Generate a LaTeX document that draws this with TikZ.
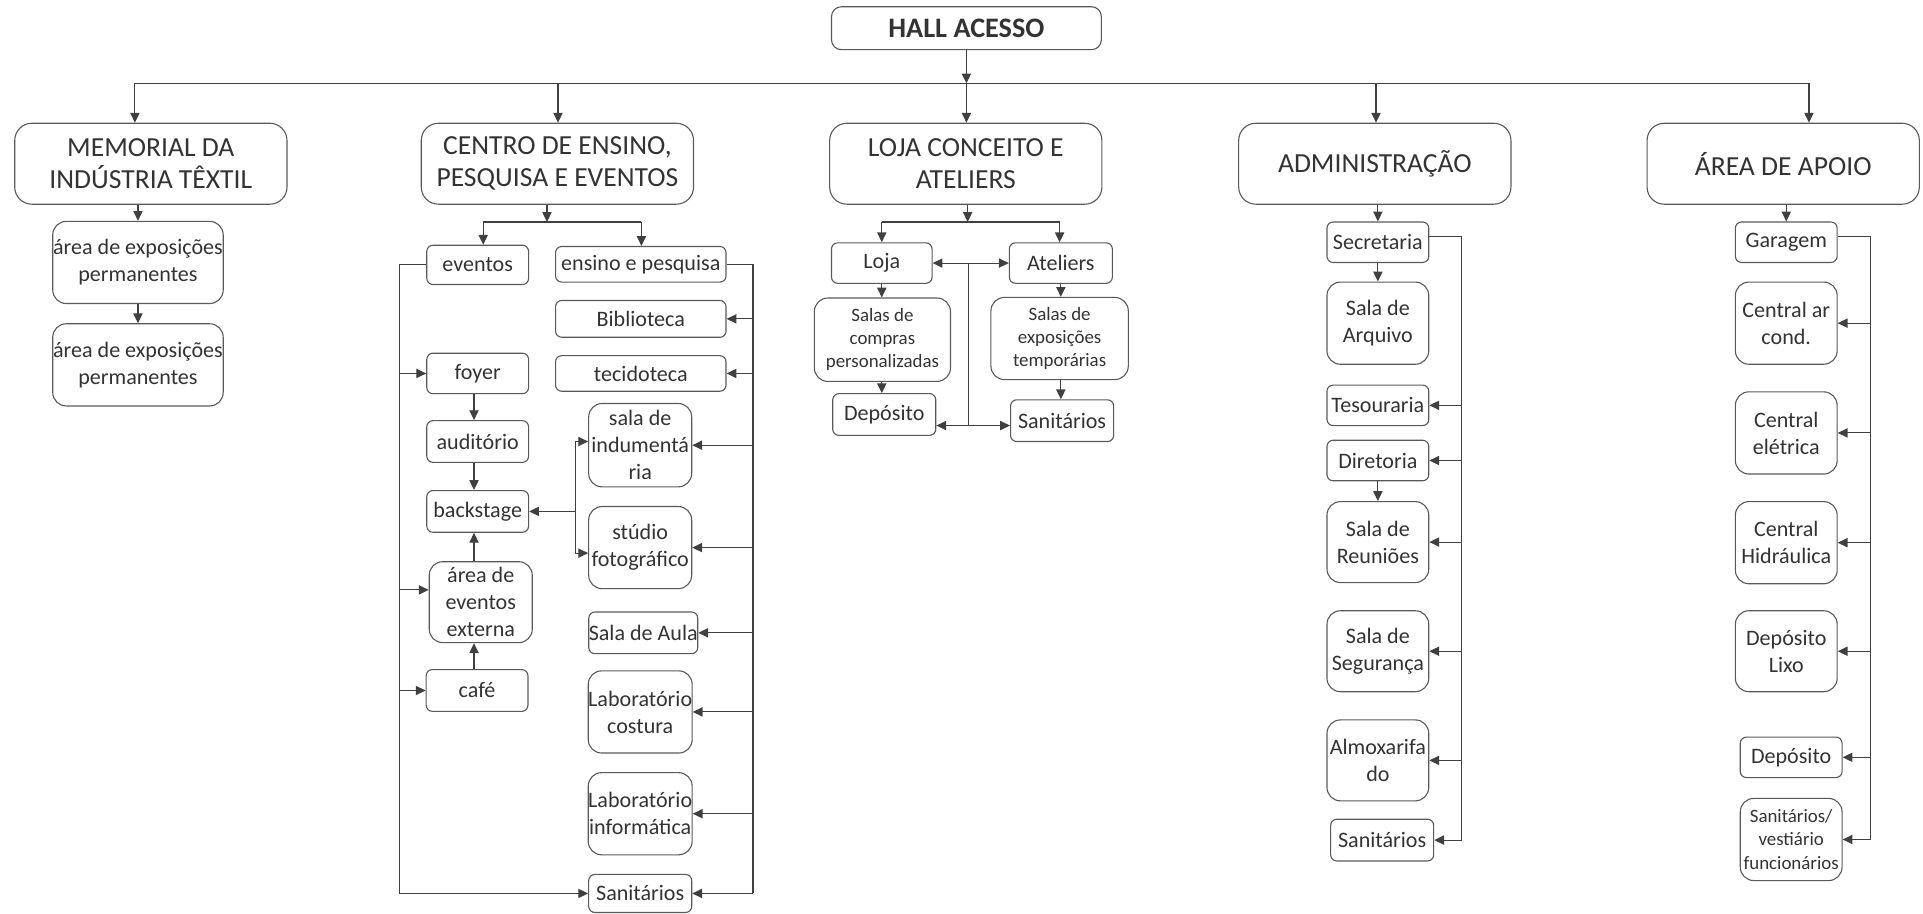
\documentclass[tikz,border=0pt]{standalone}
\usepackage{fontspec}
\setmainfont{Carlito}
\usetikzlibrary{arrows.meta}

\tikzset{
  caixa/.style={draw=black!65, line width=0.9pt, rounded corners=5pt, align=center,
    inner sep=0pt, text=black!80, font=\fontsize{18}{22}\selectfont},
  peq/.style={caixa, minimum width=83pt, minimum height=33pt},
  med/.style={caixa, rounded corners=11pt, minimum width=84pt, minimum height=67pt},
  topo/.style={caixa, rounded corners=14pt, minimum width=222pt, minimum height=66pt,
    font=\fontsize{22.5}{26}\selectfont},
  miuda/.style={font=\fontsize{15.4}{18.8}\selectfont},
  seta/.style={-{Triangle[length=8pt,width=7.5pt]}},
}

\begin{document}
\begin{tikzpicture}[x=1pt, y=-1pt, line width=0.9pt, black!75]
\useasboundingbox (0,0) rectangle (1568,745);

% nivel superior
\node[caixa, minimum width=220pt, minimum height=35pt, rounded corners=8pt,
  font=\bfseries\fontsize{23}{26}\selectfont] (hall) at (788,23) {HALL ACESSO};
\node[topo] (mem) at (123,133.5) {MEMORIAL DA\\INDÚSTRIA TÊXTIL};
\node[topo] (centro) at (454.5,133.5) {CENTRO DE ENSINO,\\PESQUISA E EVENTOS};
\node[topo] (loja) at (787.5,133.5) {LOJA CONCEITO E\\ATELIERS};
\node[topo] (adm) at (1121,133.5) {ADMINISTRAÇÃO};
\node[topo] (apoio) at (1454,133.5) {ÁREA DE APOIO};

% memorial
\node[med, minimum width=139pt] (expo1) at (112.5,214) {área de exposições\\permanentes};
\node[med, minimum width=139pt] (expo2) at (112.5,297.5) {área de exposições\\permanentes};

% centro de ensino
\node[peq, minimum height=32pt] (eventos) at (389.5,216) {eventos};
\node[peq] (foyer) at (389.5,304.5) {foyer};
\node[peq, minimum height=34pt] (audit) at (389.5,360) {auditório};
\node[peq, minimum height=34pt] (back) at (389.5,417) {backstage};
\node[med, minimum height=66pt] (externa) at (392,491) {área de\\eventos\\externa};
\node[peq, minimum height=34pt] (cafe) at (389,563) {café};
\node[peq, minimum width=139pt, minimum height=29pt] (ensino) at (522.5,215.5) {ensino e pesquisa};
\node[peq, minimum width=139pt, minimum height=30pt] (biblio) at (522.5,260) {Biblioteca};
\node[peq, minimum width=139pt, minimum height=29pt] (tecido) at (522.5,304.5) {tecidoteca};
\node[med, minimum height=68pt] (indum) at (522,363) {sala de\\indumentá\\ria};
\node[med] (studio) at (522,446.5) {stúdio\\fotográfico};
\node[peq, minimum height=34pt] (aula) at (524.5,516) {Sala de Aula};
\node[med] (costura) at (522,580.5) {Laboratório\\costura};
\node[med] (info) at (522,663.5) {Laboratório\\informática};
\node[peq, minimum width=84pt, minimum height=31pt] (sanC) at (522,728.5) {Sanitários};

% loja conceito
\node[peq, minimum width=82pt] (lojinha) at (719,214.5) {Loja};
\node[peq, minimum width=84pt] (atel) at (865,214.5) {Ateliers};
\node[med, miuda, minimum width=111pt, minimum height=68pt] (compras) at (719.5,277) {Salas de\\compras\\personalizadas};
\node[med, miuda, minimum width=112pt] (exptemp) at (864,276) {Salas de\\exposições\\temporárias};
\node[peq, minimum width=84pt, minimum height=34pt] (depL) at (721,338) {Depósito};
\node[peq, minimum width=84pt, minimum height=34pt] (sanL) at (866,343) {Sanitários};

% administracao
\node[peq] (secret) at (1123.5,197.5) {Secretaria};
\node[med, minimum width=83pt] (arquivo) at (1123.5,263.5) {Sala de\\Arquivo};
\node[peq] (tesour) at (1123.5,330.5) {Tesouraria};
\node[peq] (diret) at (1123.5,375.5) {Diretoria};
\node[med, minimum width=83pt, minimum height=66pt] (reun) at (1123.5,442) {Sala de\\Reuniões};
\node[med, minimum width=83pt, minimum height=66pt] (segur) at (1123.5,531) {Sala de\\Segurança};
\node[med, minimum width=83pt, minimum height=66pt] (almox) at (1123.5,620) {Almoxarifa\\do};
\node[peq, minimum width=84pt, minimum height=34pt] (sanA) at (1127,685) {Sanitários};

% area de apoio
\node[peq] (garag) at (1456.5,197.5) {Garagem};
\node[med, minimum width=83pt] (arcond) at (1456.5,263.5) {Central ar\\cond.};
\node[med, minimum width=83pt] (eletr) at (1456.5,353) {Central\\elétrica};
\node[med, minimum width=83pt] (hidr) at (1456.5,442.5) {Central\\Hidráulica};
\node[med, minimum width=83pt, minimum height=66pt] (lixo) at (1456.5,531) {Depósito\\Lixo};
\node[peq] (depA) at (1460.5,617.5) {Depósito};
\node[med, miuda, minimum width=83pt] (sanAp) at (1460.5,684.5) {Sanitários/\\vestiário\\funcionários};

% barramento do hall
\coordinate (b1) at (110,68);
\coordinate (b2) at (455,68);
\coordinate (b4) at (1122,68);
\coordinate (b5) at (1475,68);
\draw (b1) -- (b5);
\draw[seta] (hall.south) -- (hall.south |- b1);
\draw[seta] (hall.south |- b1) -- (hall.south |- loja.north);
\foreach \b/\n in {b1/mem, b2/centro, b4/adm, b5/apoio}
  \draw[seta] (\b) -- (\b |- \n.north);

\draw[seta] (expo1.north |- mem.south) -- (expo1.north);
\draw[seta] (expo1) -- (expo2);

% centro: eventos e ensino
\coordinate (c0) at (446,181);
\coordinate (c1) at (394,181);
\coordinate (c2) at (523,181);
\draw[seta] (c0 |- centro.south) -- (c0);
\draw (c1) -- (c2);
\draw[seta] (c1) -- (c1 |- eventos.north);
\draw[seta] (c2) -- (c2 |- ensino.north);

\coordinate (eC) at (326,0);
\coordinate (dC) at (614,0);
\coordinate (vx) at (386.5,0);
\coordinate (ext) at ([yshift=10pt]externa.west);
\draw[seta] (eventos.west) -- (eC |- eventos.west) -- (eC |- sanC.west) -- (sanC.west);
\foreach \n in {foyer,cafe}
  \draw[seta] (eC |- \n.west) -- (\n.west);
\draw[seta] (eC |- ext) -- (ext);
\draw[seta] (vx |- foyer.south) -- (vx |- audit.north);
\draw[seta] (vx |- audit.south) -- (vx |- back.north);
\draw[seta] (vx |- externa.north) -- (vx |- back.south);
\draw[seta] (vx |- cafe.north) -- (vx |- externa.south);

\draw (ensino.east) -- (dC |- ensino.east) -- (dC |- sanC.east);
\foreach \n in {biblio,tecido,indum,studio,aula,costura,info,sanC}
  \draw[seta] (dC |- \n.east) -- (\n.east);

\coordinate (f1) at (469,360);
\coordinate (f2) at (469,451);
\draw[seta] (f1 |- back.east) -- (back.east);
\draw (f1) -- (f2);
\draw[seta] (f1) -- (f1 -| indum.west);
\draw[seta] (f2) -- (f2 -| studio.west);

% loja
\coordinate (l0) at (789,181);
\coordinate (l1) at (719,181);
\coordinate (l2) at (864,181);
\draw[seta] (l0 |- loja.south) -- (l0);
\draw (l1) -- (l2);
\draw[seta] (l1) -- (l1 |- lojinha.north);
\draw[seta] (l2) -- (l2 |- atel.north);
\draw[seta] (lojinha.south) -- (lojinha.south |- compras.north);
\draw[seta] (lojinha.south |- compras.south) -- (lojinha.south |- depL.north);
\draw[seta] (atel.south) -- (atel.south |- exptemp.north);
\draw[seta] (atel.south |- exptemp.south) -- (atel.south |- sanL.north);
\coordinate (m1) at (790,214.5);
\coordinate (m2) at (790,347);
\draw (m1) -- (m2);
\draw[seta] (m1) -- (m1 -| lojinha.east);
\draw[seta] (m1) -- (m1 -| atel.west);
\draw[seta] (m2) -- (m2 -| depL.east);
\draw[seta] (m2) -- (m2 -| sanL.west);

% administracao
\draw[seta] (secret |- adm.south) -- (secret.north);
\draw[seta] (secret) -- (arquivo);
\draw[seta] (diret) -- (reun);
\coordinate (dA) at (1192,0);
\coordinate (sA) at ([yshift=5pt]secret.east);
\draw (sA) -- (dA |- sA) -- (dA |- sanA.east);
\foreach \n in {tesour,diret,reun,segur,almox,sanA}
  \draw[seta] (dA |- \n.east) -- (\n.east);

% apoio
\draw[seta] (garag |- apoio.south) -- (garag.north);
\coordinate (dP) at (1525.5,0);
\coordinate (sP) at ([yshift=5pt]garag.east);
\draw (sP) -- (dP |- sP) -- (dP |- sanAp.east);
\foreach \n in {arcond,eletr,hidr,lixo,depA,sanAp}
  \draw[seta] (dP |- \n.east) -- (\n.east);
\end{tikzpicture}
\end{document}
